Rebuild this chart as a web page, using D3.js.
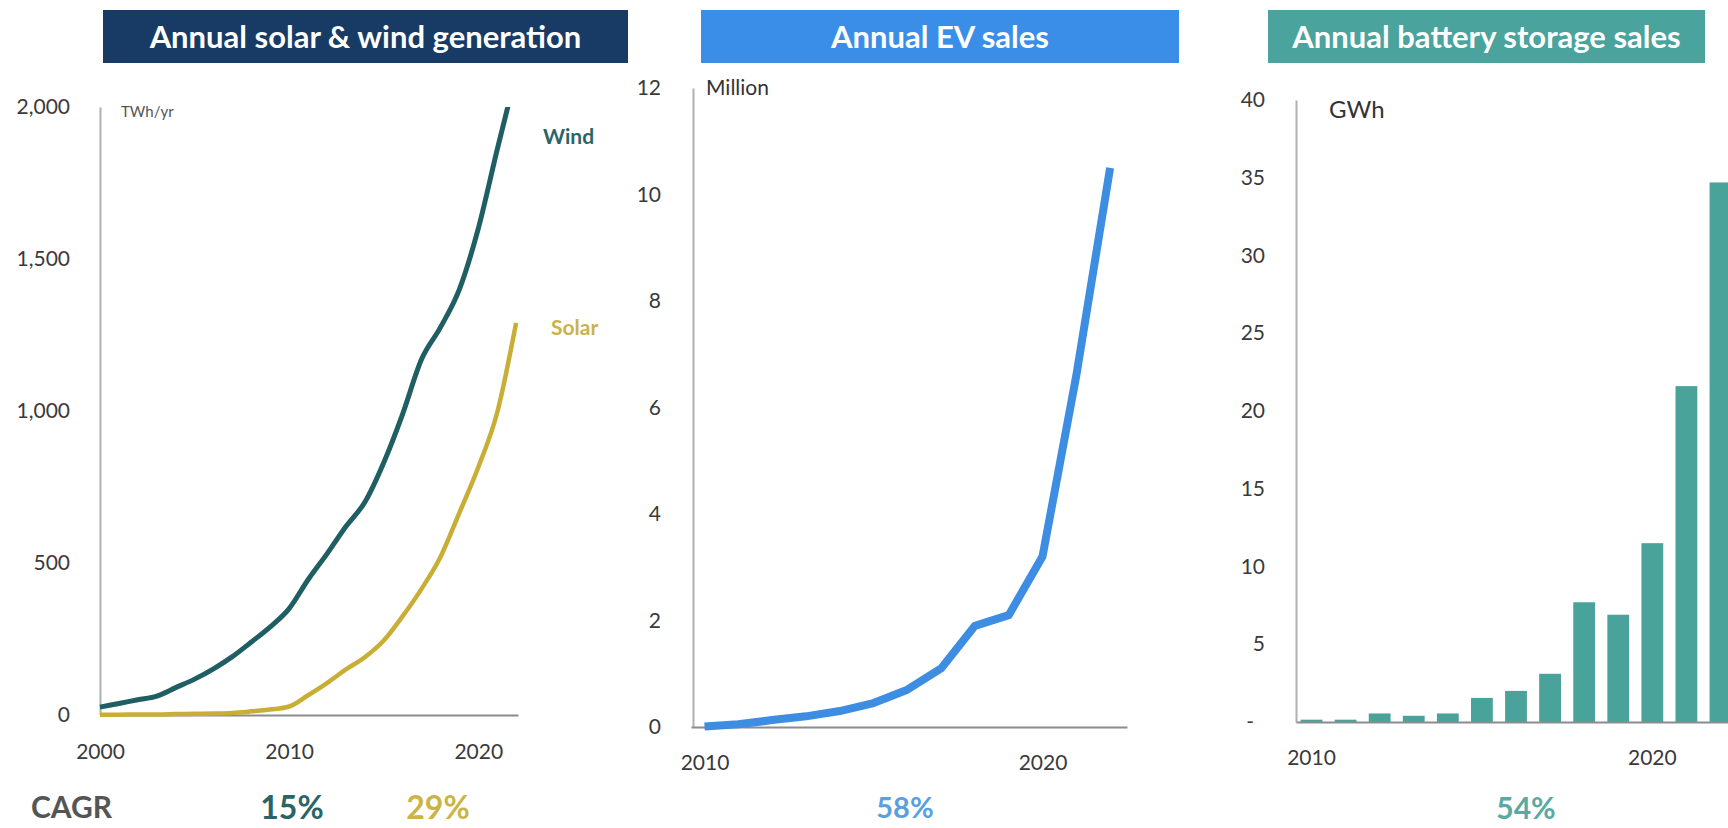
<!DOCTYPE html>
<html>
<head>
<meta charset="utf-8">
<script src="https://cdn.jsdelivr.net/npm/d3@7"></script>
<style>
  html, body { margin: 0; padding: 0; background: #fff; }
  svg { display: block; font-family: Lato, "Open Sans", sans-serif; }
</style>
</head>
<body>
<svg id="chart" width="1728" height="828"></svg>
<script>
// ---- Annual solar & wind generation (TWh/yr) ----
const genYears = d3.range(2000, 2023);
const windTWh  = [26, 38, 50, 62, 90, 118, 152, 192, 240, 290, 350, 445, 530, 620, 700, 830, 990, 1170, 1275, 1400, 1600, 1860, 2110];
const solarTWh = [1, 1, 2, 2, 3, 4, 5, 7, 12, 18, 28, 65, 105, 150, 190, 245, 325, 415, 520, 665, 815, 995, 1290];
const genTicks = [0, 500, 1000, 1500, 2000];
const genYearTicks = [2000, 2010, 2020];

// ---- Annual EV sales (million) ----
const evYears = d3.range(2010, 2023);
const evSales = [0.01, 0.05, 0.13, 0.2, 0.3, 0.45, 0.7, 1.1, 1.9, 2.1, 3.2, 6.6, 10.5];
const evTicks = [0, 2, 4, 6, 8, 10, 12];
const evYearTicks = [2010, 2020];

// ---- Annual battery storage sales (GWh) ----
const batteryYears = d3.range(2010, 2023);
const batteryGWh = [0.15, 0.15, 0.55, 0.4, 0.55, 1.55, 2.0, 3.1, 7.7, 6.9, 11.5, 21.6, 34.7];
const batteryTicks = [0, 5, 10, 15, 20, 25, 30, 35, 40];
const batteryYearTicks = [2010, 2020];

// ---- Headings and growth rates ----
const panelTitles = ["Annual solar & wind generation", "Annual EV sales", "Annual battery storage sales"];
const unitLabels = ["TWh/yr", "Million", "GWh"];
const seriesNames = ["Wind", "Solar"];
const cagrLabel = "CAGR";
const cagrValues = ["15%", "29%", "58%", "54%"];

const C = {
  navy: "#173b65", blue: "#3b8ee8", teal: "#4aa39c",
  wind: "#1f5f63", solar: "#c9ae36", ev: "#3d8de3", bar: "#4aa39b",
  yAxis: "#b0b0b0", xAxis: "#8c8c8c", tick: "#3a3a3a"
};

const svg = d3.select("#chart");

// Title banners
const banners = [
  { x: 103, w: 525, fill: C.navy },
  { x: 701, w: 478, fill: C.blue },
  { x: 1268, w: 437, fill: C.teal }
];
banners.forEach((b, i) => {
  svg.append("rect").attr("x", b.x).attr("y", 10).attr("width", b.w).attr("height", 53).attr("fill", b.fill);
  svg.append("text").attr("x", b.x + b.w / 2).attr("y", 37).attr("dy", "0.35em")
    .attr("text-anchor", "middle").attr("fill", "#fff").attr("font-weight", 700)
    .attr("font-size", 31).text(panelTitles[i]);
});

function styleAxis(g, fontSize, color) {
  g.select(".domain").attr("stroke", color).attr("stroke-width", 2);
  g.selectAll(".tick text").attr("fill", C.tick).attr("font-size", fontSize)
    .attr("font-family", "Lato, 'Open Sans', sans-serif");
}

// ===== Panel 1: solar & wind generation =====
const x1 = d3.scaleLinear().domain([2000, 2022.1]).range([100, 518]);
const y1 = d3.scaleLinear().domain([0, 2000]).range([715, 107]);

// plot area clip: values above the axis maximum are cut at the top edge
svg.append("defs").append("clipPath").attr("id", "gen-clip")
  .append("rect").attr("x", x1.range()[0] - 10).attr("y", y1(2000))
  .attr("width", x1.range()[1] - x1.range()[0] + 20).attr("height", y1(0) - y1(2000) + 10);

svg.append("g").attr("transform", "translate(100,0)")
  .call(d3.axisLeft(y1).tickValues(genTicks).tickSize(0).tickSizeOuter(0).tickPadding(30).tickFormat(d3.format(",")))
  .call(g => styleAxis(g, 21, C.yAxis));
svg.append("g").attr("transform", "translate(0,715)")
  .call(d3.axisBottom(x1).tickValues(genYearTicks).tickSize(0).tickSizeOuter(0).tickPadding(29).tickFormat(d3.format("d")))
  .call(g => styleAxis(g, 21, C.xAxis));

const genLine = d3.line().x(d => x1(d[0])).y(d => y1(d[1])).curve(d3.curveMonotoneX);
const genG = svg.append("g").attr("clip-path", "url(#gen-clip)");
genG.append("path").datum(genYears.map((yr, i) => [yr, solarTWh[i]]))
  .attr("d", genLine).attr("fill", "none").attr("stroke", C.solar).attr("stroke-width", 4.5)
  .attr("stroke-linejoin", "round");
genG.append("path").datum(genYears.map((yr, i) => [yr, windTWh[i]]))
  .attr("d", genLine).attr("fill", "none").attr("stroke", C.wind).attr("stroke-width", 5)
  .attr("stroke-linejoin", "round");

svg.append("text").attr("x", 121).attr("y", 112).attr("dy", "0.35em")
  .attr("font-size", 15).attr("fill", "#555").attr("font-family", "'Liberation Sans Narrow', Lato, sans-serif")
  .text(unitLabels[0]);
svg.append("text").attr("x", 543).attr("y", 137).attr("dy", "0.35em")
  .attr("font-size", 21).attr("font-weight", 700).attr("fill", "#2a6466").text(seriesNames[0]);
svg.append("text").attr("x", 551).attr("y", 328).attr("dy", "0.35em")
  .attr("font-size", 21).attr("font-weight", 700).attr("fill", "#c9b34a").text(seriesNames[1]);

// ===== Panel 2: EV sales =====
const x2 = d3.scaleLinear().domain([2009.6, 2022.5]).range([691, 1127]);
const y2 = d3.scaleLinear().domain([0, 12]).range([727, 88]);

svg.append("g").attr("transform", "translate(693,0)")
  .call(d3.axisLeft(y2).tickValues(evTicks).tickSize(0).tickSizeOuter(0).tickPadding(32))
  .call(g => styleAxis(g, 21, C.yAxis));
svg.append("g").attr("transform", "translate(0,727)")
  .call(d3.axisBottom(x2).tickValues(evYearTicks).tickSize(0).tickSizeOuter(0).tickPadding(28).tickFormat(d3.format("d")))
  .call(g => styleAxis(g, 21, C.xAxis));

svg.append("path").datum(evYears.map((yr, i) => [yr, evSales[i]]))
  .attr("d", d3.line().x(d => x2(d[0])).y(d => y2(d[1])).curve(d3.curveLinear))
  .attr("fill", "none").attr("stroke", C.ev).attr("stroke-width", 8).attr("stroke-linejoin", "round");

svg.append("text").attr("x", 706).attr("y", 88).attr("dy", "0.35em")
  .attr("font-size", 21).attr("fill", "#333").text(unitLabels[1]);

// ===== Panel 3: battery storage sales =====
const xb = d3.scaleBand().domain(batteryYears).range([1296, 1736]).paddingInner(0.36).paddingOuter(0.135);
const yb = d3.scaleLinear().domain([0, 40]).range([722, 100]);

svg.append("g").attr("transform", "translate(1296,0)")
  .call(d3.axisLeft(yb).tickValues(batteryTicks).tickSize(0).tickSizeOuter(0).tickPadding(31)
    .tickFormat(d => d === 0 ? "-" : d))
  .call(g => styleAxis(g, 21, C.yAxis))
  .call(g => g.selectAll(".tick text").filter(d => d === 0).attr("dx", -11));

svg.append("g").selectAll("rect").data(batteryYears.map((yr, i) => [yr, batteryGWh[i]])).join("rect")
  .attr("x", d => xb(d[0])).attr("width", xb.bandwidth())
  .attr("y", d => yb(d[1])).attr("height", d => yb(0) - yb(d[1]))
  .attr("fill", C.bar);

svg.append("g").attr("transform", "translate(0,722)")
  .call(d3.axisBottom(xb).tickValues(batteryYearTicks).tickSize(0).tickSizeOuter(0).tickPadding(28))
  .call(g => styleAxis(g, 21, C.xAxis));

svg.append("text").attr("x", 1329).attr("y", 110).attr("dy", "0.35em")
  .attr("font-size", 24).attr("fill", "#333").text(unitLabels[2]);

// ===== Growth-rate row =====
svg.append("text").attr("x", 31).attr("y", 807).attr("dy", "0.35em")
  .attr("font-size", 30).attr("font-weight", 700).attr("fill", "#555").text(cagrLabel);
const cagrStyle = [
  { x: 292, color: "#2a6466", size: 32 },
  { x: 438, color: "#cbb445", size: 32 },
  { x: 905, color: "#5a9fe2", size: 29 },
  { x: 1526, color: "#5aa9a2", size: 30 }
];
cagrValues.forEach((v, i) => {
  const s = cagrStyle[i];
  svg.append("text").attr("x", s.x).attr("y", 808).attr("dy", "0.35em")
    .attr("text-anchor", "middle").attr("font-size", s.size).attr("font-weight", 700)
    .attr("fill", s.color).text(v);
});
</script>
</body>
</html>
